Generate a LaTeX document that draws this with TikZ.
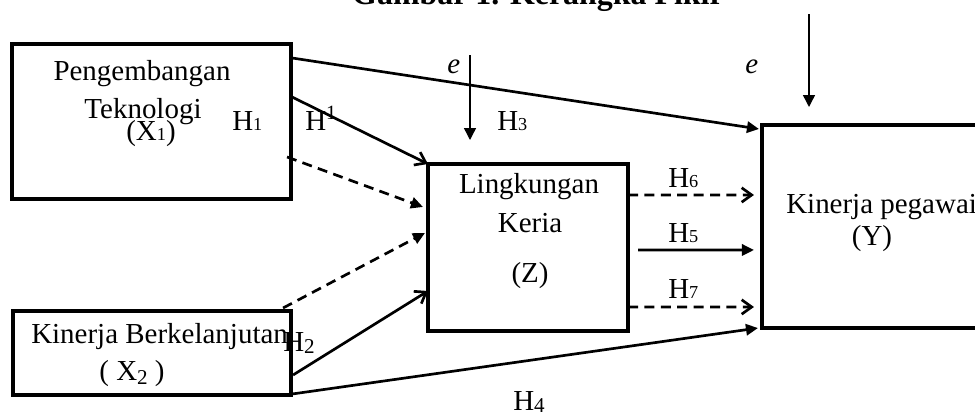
\documentclass[tikz,border=0pt]{standalone}
\usepackage{fontspec}
\setmainfont{Liberation Serif}
\usetikzlibrary{arrows.meta,calc}

% small digit sitting on the baseline
\newcommand{\hdig}[1]{{\fontsize{13}{13}\selectfont #1}}
% digit lowered a little below the baseline
\newcommand{\ldig}[2]{\raisebox{-#2}{\fontsize{15}{15}\selectfont #1}}

\begin{document}
\begin{tikzpicture}[x=0.025cm, y=-0.025cm,
  varbox/.style={draw, line width=3.2pt, inner sep=0pt, outer sep=0pt},
  lbl/.style={anchor=base, inner sep=0pt, font=\fontsize{20.6}{24}\selectfont},
  lblw/.style={lbl, anchor=base west},
  arr/.style={-{Triangle[length=3mm,width=2.8mm]}, line width=1.9pt},
  openarr/.style={-{Straight Barb[length=2.5mm,width=3.6mm]}, line width=1.9pt},
  dasharr/.style={openarr, dash pattern=on 2.5mm off 1.6mm},
  dashtri/.style={arr, dash pattern=on 2.5mm off 1.6mm},
  errarr/.style={-{Triangle[length=3mm,width=3mm]}, line width=1pt}
]
\useasboundingbox (0,0) rectangle (975,416);

% title (cut at the top edge)
\node[lbl, font=\bfseries\fontsize{22.7}{26}\selectfont] (title) at (538,4) {Gambar 1. Kerangka Pikir};

% variables
\node[varbox, minimum width=6.975cm, minimum height=3.875cm] (x1) at (151.5,121.5) {};
\node[varbox, minimum width=6.95cm, minimum height=2.1cm] (x2) at (152,353) {};
\node[varbox, minimum width=5cm, minimum height=4.175cm] (z) at (528,247.5) {};
\node[varbox, minimum width=6.2cm, minimum height=5.075cm] (y) at (886,226.5) {};

% paths to Y and Z
\draw[arr] ($(x1.north east)+(1,14)$) -- ($(y.north west)+(-3,4)$);
\draw[openarr] ($(x1.north east)+(1,53)$) -- (z.north west);
\draw[dashtri] ($(x1.north east)+(-4,113)$) -- ($(z.north west)+(-5,43)$);
\draw[dashtri] ($(x2.north east)+(-8,-3)$) -- ($(z.north west)+(-3,69)$);
\draw[openarr] ($(x2.north east)+(2,64)$) -- ($(z.north west)+(0,127)$);
\draw[arr] ($(x2.south east)+(1,-1)$) -- ($(y.south west)+(-4,0)$);

\draw[dasharr] ($(z.north east)+(0,31)$) -- ($(y.north west)+(-8,70)$);
\draw[arr] ($(z.north east)+(10,86)$) -- ($(y.north west)+(-8,125)$);
\draw[dasharr] ($(z.north east)+(0,143)$) -- ($(y.north west)+(-8,182)$);

% error terms
\coordinate (e1top) at (470,55);
\coordinate (e1bot) at (470,140);
\coordinate (e2top) at (809,14);
\coordinate (e2bot) at (809,107);
\draw[errarr] (e1top) -- (e1bot);
\draw[errarr] (e2top) -- (e2bot);
\node[lblw] (e1) at (447,73) {\textit{e}};
\node[lblw] (e2) at (745,73) {\textit{e}};

% texts in the boxes
\node[lbl] (x1a) at (142,80) {Pengembangan};
\node[lbl] (x1b) at (143,118) {Teknologi};
\node[lbl] (x1c) at (151,140) {(X\hdig{1})};
\node[lblw] (x2a) at (31,343) {Kinerja Berkelanjutan};
\node[lbl] (x2b) at (132,380) {( X\ldig{2}{3pt} )};
\node[lbl] (za) at (529,193) {Lingkungan};
\node[lbl] (zb) at (530,232) {Keria};
\node[lbl] (zc) at (530,282) {(Z)};
\node[lblw] (ya) at (786,213) {Kinerja pegawai};
\node[lbl] (yb) at (872,245) {(Y)};

% hypotheses
\node[lblw] (h1) at (232,130) {H\hdig{1}};
\node[lblw] (h1b) at (305,130) {H\textsuperscript{1}};
\node[lblw] (h2) at (283,351) {H\ldig{2}{1.5pt}};
\node[lblw] (h3) at (497,130) {H\hdig{3}};
\node[lblw] (h4) at (513,410) {H\ldig{4}{1.5pt}};
\node[lblw] (h5) at (668,242) {H\hdig{5}};
\node[lblw] (h6) at (668,187) {H\hdig{6}};
\node[lblw] (h7) at (668,298) {H\hdig{7}};
\end{tikzpicture}
\end{document}
